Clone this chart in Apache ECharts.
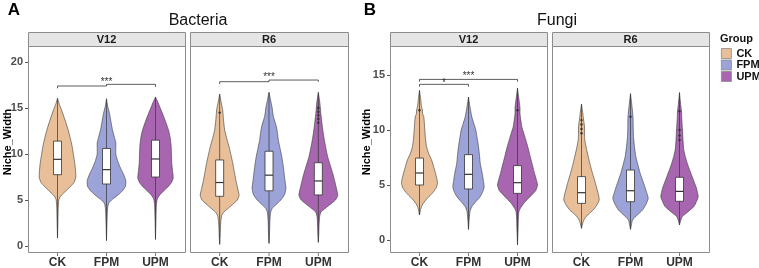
<!DOCTYPE html>
<html>
<head>
<meta charset="utf-8">
<script src="https://cdn.jsdelivr.net/npm/echarts@6/dist/echarts.min.js"></script>
<style>
  html, body { margin: 0; padding: 0; background: #fff; }
  #chart { width: 759px; height: 268px; }
</style>
</head>
<body>
<div id="chart"></div>
<script>
// groups and colours
var groups = ['CK', 'FPM', 'UPM'];
var groupColors = ['#E8BF98', '#9CA3D8', '#A766AF'];

// y axis ranges [min, max, step]
var bacYAxis = [0, 20, 5];
var funYAxis = [0, 15, 5];

// violin outlines: [Niche_Width, relative density] from top tip to bottom tip
var bacV12Violin = {
    CK: [[16.05, 0], [15.5, 1.5], [14.8, 4], [13.7, 7.5], [12.6, 10.7], [11.7, 12.8], [10.8, 14.7], [9.9, 16], [9.0, 17.3], [8.2, 18], [7.5, 18.3], [6.9, 16.5], [6.4, 12.3], [6.0, 8.5], [5.7, 5.7], [5.4, 3], [5.0, 1.3], [4.0, 0.7], [2.5, 0.4], [0.87, 0]],
    FPM: [[16.0, 0], [15.2, 1.2], [14.4, 3], [13.5, 4.5], [12.6, 6], [11.8, 8], [11.2, 9.3], [10.6, 9.3], [10.0, 9.3], [9.3, 11], [8.6, 13.5], [7.8, 17], [7.1, 19.3], [6.5, 19], [6.0, 16], [5.5, 11], [5.0, 5], [4.6, 2], [4.0, 1], [2.5, 0.5], [0.58, 0]],
    UPM: [[16.2, 0], [15.6, 2.5], [14.8, 5.5], [13.7, 9.5], [12.6, 13], [11.7, 14.8], [10.8, 15.7], [9.9, 16], [9.0, 16.3], [8.2, 17], [7.4, 17.7], [6.9, 16], [6.4, 12.3], [5.9, 7.5], [5.5, 4], [5.1, 1.8], [4.5, 0.9], [3.0, 0.5], [0.72, 0]]
};
var bacR6Violin = {
    CK: [[16.5, 0], [15.6, 1.5], [14.8, 3], [13.7, 3.8], [12.6, 5], [11.7, 7], [10.8, 9.3], [9.9, 11.2], [9.0, 13], [8.1, 14.5], [7.2, 16], [6.3, 17.8], [5.5, 19.3], [5.0, 17.5], [4.6, 13.7], [4.1, 8.5], [3.7, 4.3], [3.3, 2], [2.5, 1], [1.2, 0.5], [0.18, 0]],
    FPM: [[16.7, 0], [15.9, 1.5], [15.1, 3], [14.1, 4.3], [13.0, 7.3], [12.2, 8.5], [11.5, 9.3], [10.6, 11], [9.7, 12.7], [8.8, 14], [7.9, 15], [7.0, 16], [6.3, 16.8], [5.6, 15.5], [5.0, 11.7], [4.5, 7], [4.1, 3.3], [3.6, 1.5], [2.5, 0.8], [1.3, 0.5], [0.29, 0]],
    UPM: [[16.7, 0], [15.6, 1.5], [14.4, 2.5], [13.0, 4], [12.2, 5], [11.5, 6], [10.6, 7.6], [9.7, 9.3], [8.8, 11.8], [7.9, 14.3], [7.1, 16.2], [6.4, 17.7], [5.5, 19.3], [5.0, 17], [4.6, 12.7], [4.1, 7], [3.7, 2.7], [3.2, 1.3], [2.2, 0.7], [1.2, 0.4], [0.4, 0]]
};
var funV12Violin = {
    CK: [[13.6, 0], [12.8, 1.2], [12.1, 2], [11.8, 3], [11.5, 3], [11.2, 4.3], [10.0, 5.3], [9.2, 6], [8.5, 7], [7.9, 9], [7.3, 12], [6.7, 14], [6.06, 16], [5.6, 17.3], [5.15, 18], [4.7, 16.5], [4.24, 12.7], [3.9, 9], [3.6, 6], [3.3, 3.5], [3.03, 2], [2.7, 1], [2.27, 0]],
    FPM: [[13.0, 0], [12.2, 1.3], [11.2, 3.3], [10.6, 5.3], [10.0, 7.3], [9.2, 8.8], [8.5, 10], [7.7, 11], [7.0, 11.7], [6.4, 13], [5.75, 14.3], [5.3, 15], [4.85, 15.7], [4.4, 14.3], [3.94, 11.7], [3.5, 7.5], [3.03, 3.3], [2.6, 1.5], [2.0, 0.8], [0.97, 0]],
    UPM: [[13.8, 0], [12.9, 1.3], [12.0, 2.5], [11.5, 2.5], [10.9, 3.3], [10.3, 4.3], [9.7, 6.3], [9.1, 8.3], [8.4, 10.5], [7.6, 12.7], [6.8, 15], [6.06, 17], [5.5, 18.8], [5.0, 20], [4.5, 18.3], [4.1, 14.3], [3.7, 10], [3.3, 6], [2.9, 3], [2.6, 1.5], [2.0, 0.9], [1.0, 0.6], [-0.45, 0]]
};
var funR6Violin = {
    CK: [[12.36, 0], [11.6, 1.2], [11.0, 2], [10.3, 3], [9.7, 3], [9.1, 3.3], [8.4, 4.7], [7.6, 6.7], [6.8, 8.8], [6.06, 11], [5.3, 13.5], [4.55, 15.7], [4.1, 17], [3.64, 17.7], [3.2, 15.5], [2.73, 11.7], [2.35, 7], [1.97, 3.3], [1.6, 1.5], [1.06, 0]],
    FPM: [[13.3, 0], [12.3, 1.3], [11.2, 2.5], [10.3, 2.7], [9.4, 3], [8.5, 4], [7.6, 5.3], [6.8, 7.5], [6.06, 9.7], [5.45, 12], [4.85, 14.3], [4.3, 16.2], [3.79, 17.7], [3.25, 15.5], [2.73, 12], [2.25, 6.5], [1.82, 2], [1.4, 1], [0.97, 0]],
    UPM: [[13.4, 0], [12.3, 1.2], [11.7, 2], [11.0, 2.3], [10.0, 3], [9.1, 3.5], [8.2, 4.3], [7.6, 5.8], [7.0, 7.7], [6.4, 10], [5.75, 12.7], [5.2, 15], [4.7, 17], [3.94, 18.7], [3.5, 17], [3.03, 14.3], [2.6, 9], [2.12, 2.7], [1.7, 1], [1.36, 0]]
};

// boxes: [Q1, median, Q3]
var bacV12Box = { CK: [7.75, 9.42, 11.4], FPM: [6.74, 8.3, 10.6], UPM: [7.5, 9.46, 11.5] };
var bacR6Box = { CK: [5.4, 6.9, 9.35], FPM: [6.0, 7.7, 10.3], UPM: [5.55, 7.07, 9.05] };
var funV12Box = { CK: [5.0, 6.09, 7.45], FPM: [4.64, 5.97, 7.76], UPM: [4.24, 5.21, 6.76] };
var funR6Box = { CK: [3.33, 4.3, 5.76], FPM: [3.48, 4.48, 6.36], UPM: [3.52, 4.42, 5.7] };

// outlier points
var bacV12Out = { CK: [], FPM: [], UPM: [] };
var bacR6Out = { CK: [14.5], FPM: [], UPM: [15.0, 14.6, 14.2, 13.8, 13.4] };
var funV12Out = { CK: [11.8], FPM: [], UPM: [11.8] };
var funR6Out = { CK: [10.9, 10.5, 10.1, 9.7], FPM: [11.2], UPM: [11.7, 10.0, 9.5, 9.1] };

// significance brackets: path in [group, value], label between span groups at value y
var bacV12Sig = [{ path: [['CK', 17.14], ['CK', 17.39], ['FPM', 17.39], ['FPM', 17.57], ['UPM', 17.57], ['UPM', 17.3]], text: '***', span: ['CK', 'UPM'], y: 18.1 }];
var bacR6Sig = [{ path: [['CK', 17.6], ['CK', 17.86], ['FPM', 17.86], ['FPM', 18.04], ['UPM', 18.04], ['UPM', 17.86]], text: '***', span: ['CK', 'UPM'], y: 18.7 }];
var funV12Sig = [
    { path: [['CK', 14.39], ['CK', 14.6], ['UPM', 14.6], ['UPM', 14.39]], text: '***', span: ['CK', 'UPM'], y: 15.15 },
    { path: [['CK', 13.94], ['CK', 14.15], ['FPM', 14.15], ['FPM', 13.94]], text: '*', span: ['CK', 'FPM'], y: 14.55 }
];
var funR6Sig = [];

var panels = [
    { strip: 'V12', violin: bacV12Violin, box: bacV12Box, out: bacV12Out, sig: bacV12Sig, yAxis: bacYAxis, showY: true,
      grid: { left: 33, top: 62, width: 147, height: 184 }, frame: [28, 46, 157, 206], xOffset: 6 },
    { strip: 'R6', violin: bacR6Violin, box: bacR6Box, out: bacR6Out, sig: bacR6Sig, yAxis: bacYAxis, showY: false,
      grid: { left: 195, top: 62, width: 148, height: 184 }, frame: [190, 46, 158, 206], xOffset: 6 },
    { strip: 'V12', violin: funV12Violin, box: funV12Box, out: funV12Out, sig: funV12Sig, yAxis: funYAxis, showY: true,
      grid: { left: 395, top: 75, width: 147, height: 165 }, frame: [390, 46, 157, 206], xOffset: 12 },
    { strip: 'R6', violin: funR6Violin, box: funR6Box, out: funR6Out, sig: funR6Sig, yAxis: funYAxis, showY: false,
      grid: { left: 557, top: 75, width: 147, height: 165 }, frame: [552, 46, 157, 206], xOffset: 12 }
];

function violinRender(profile, box, outliers, ci, yMin, tickOffset) {
    return function (params, api) {
        var cx = api.coord([ci, 0])[0];
        var k = api.size([1, 0])[0] / 49;
        var right = [], left = [];
        profile.forEach(function (p) {
            var y = api.coord([ci, p[0]])[1];
            right.push([cx + p[1] * k, y]);
            left.unshift([cx - p[1] * k, y]);
        });
        var top = api.coord([ci, profile[0][0]])[1];
        var bottom = api.coord([ci, profile[profile.length - 1][0]])[1];
        var q1 = api.coord([ci, box[0]])[1];
        var med = api.coord([ci, box[1]])[1];
        var q3 = api.coord([ci, box[2]])[1];
        // category tick below the panel frame
        var base = api.coord([ci, yMin])[1] + tickOffset;
        var children = [
            { type: 'line', shape: { x1: cx, y1: base + 1, x2: cx, y2: base + 4 },
              style: { stroke: '#555', lineWidth: 0.8 } },
            { type: 'polygon', shape: { points: right.concat(left), smooth: 0.2 },
              style: { fill: api.visual('color'), stroke: '#3a3a3a', lineWidth: 0.6 } },
            { type: 'line', shape: { x1: cx, y1: top, x2: cx, y2: bottom },
              style: { stroke: '#333', lineWidth: 0.7 } }
        ];
        outliers.forEach(function (v) {
            children.push({ type: 'circle', shape: { cx: cx, cy: api.coord([ci, v])[1], r: 1.2 }, style: { fill: '#333' } });
        });
        children.push({ type: 'rect', shape: { x: cx - 4, y: q3, width: 8, height: q1 - q3 },
            style: { fill: '#fff', stroke: '#333', lineWidth: 0.8 } });
        children.push({ type: 'line', shape: { x1: cx - 4, y1: med, x2: cx + 4, y2: med },
            style: { stroke: '#333', lineWidth: 1.2 } });
        return { type: 'group', children: children };
    };
}

function sigRender(sigs) {
    return function (params, api) {
        var children = [];
        sigs.forEach(function (s) {
            var pts = s.path.map(function (p) { return api.coord([groups.indexOf(p[0]), p[1]]); });
            children.push({ type: 'polyline', shape: { points: pts }, style: { stroke: '#333', lineWidth: 0.8, fill: null } });
            var xa = api.coord([groups.indexOf(s.span[0]), s.y])[0];
            var xb = api.coord([groups.indexOf(s.span[1]), s.y])[0];
            var y = api.coord([0, s.y])[1];
            children.push({ type: 'text', x: (xa + xb) / 2, y: y + 3,
                style: { text: s.text, fill: '#333', fontSize: 10, fontFamily: 'Liberation Sans', align: 'center', verticalAlign: 'middle' } });
        });
        return { type: 'group', children: children };
    };
}

var grids = [], xAxes = [], yAxes = [], series = [], graphics = [];
panels.forEach(function (p, i) {
    grids.push(Object.assign({ containLabel: false, outerBoundsMode: 'none' }, p.grid));
    xAxes.push({
        type: 'category', gridIndex: i, data: groups, offset: p.xOffset,
        axisLine: { show: false },
        axisTick: { show: false },
        axisLabel: { margin: 5, fontSize: 12, fontWeight: 'bold', color: '#333', fontFamily: 'Liberation Sans' }
    });
    yAxes.push({
        type: 'value', gridIndex: i, min: p.yAxis[0], max: p.yAxis[1], interval: p.yAxis[2], offset: 5,
        axisLine: { show: false },
        axisTick: { show: p.showY, length: 3, lineStyle: { color: '#555' } },
        axisLabel: { show: p.showY, margin: 5, fontSize: 11, fontWeight: 'bold', color: '#4d4d4d', fontFamily: 'Liberation Sans' },
        splitLine: { show: false }
    });
    groups.forEach(function (g, gi) {
        series.push({
            type: 'custom', name: g, xAxisIndex: i, yAxisIndex: i,
            itemStyle: { color: groupColors[gi] },
            data: [[gi, p.box[g][1]]],
            renderItem: violinRender(p.violin[g], p.box[g], p.out[g], gi, p.yAxis[0], p.xOffset)
        });
    });
    if (p.sig.length) {
        series.push({ type: 'custom', xAxisIndex: i, yAxisIndex: i, data: [[0, 0]], renderItem: sigRender(p.sig), z: 5 });
    }
    var f = p.frame;
    graphics.push({ type: 'rect', shape: { x: f[0] + 0.5, y: f[1] + 0.5, width: f[2], height: f[3] },
        style: { fill: 'none', stroke: '#8c8c8c', lineWidth: 1 }, z: 10 });
    graphics.push({ type: 'rect', shape: { x: f[0] + 0.5, y: 32.5, width: f[2], height: 14 },
        style: { fill: '#e5e5e5', stroke: '#8c8c8c', lineWidth: 1 }, z: 10 });
    graphics.push({ type: 'text', x: f[0] + f[2] / 2, y: 40, z: 11,
        style: { text: p.strip, fill: '#1a1a1a', fontSize: 11, fontWeight: 'bold', fontFamily: 'Liberation Sans', align: 'center', verticalAlign: 'middle' } });
});

// titles, panel letters, axis names, legend title
[['Bacteria', 198], ['Fungi', 557]].forEach(function (t) {
    graphics.push({ type: 'text', x: t[1], y: 21, style: { text: t[0], fill: '#111', fontSize: 16, fontFamily: 'Liberation Sans', align: 'center', verticalAlign: 'middle' } });
});
[['A', 14], ['B', 370]].forEach(function (t) {
    graphics.push({ type: 'text', x: t[1], y: 10, style: { text: t[0], fill: '#000', fontSize: 17, fontWeight: 'bold', fontFamily: 'Liberation Sans', align: 'center', verticalAlign: 'middle' } });
});
[8, 367].forEach(function (x) {
    graphics.push({ type: 'text', x: x, y: 142, rotation: Math.PI / 2,
        style: { text: 'Niche_Width', fill: '#000', fontSize: 11, fontWeight: 'bold', fontFamily: 'Liberation Sans', align: 'center', verticalAlign: 'middle' } });
});
graphics.push({ type: 'text', x: 720, y: 39, style: { text: 'Group', fill: '#111', fontSize: 11, fontWeight: 'bold', fontFamily: 'Liberation Sans', align: 'left', verticalAlign: 'middle' } });

var myChart = echarts.init(document.getElementById('chart'));
myChart.setOption({
    backgroundColor: '#fff',
    animation: false,
    legend: {
        data: groups, orient: 'vertical', left: 721, top: 48, padding: 0,
        itemWidth: 10, itemHeight: 10, itemGap: 0.5, icon: 'rect', selectedMode: false,
        itemStyle: { borderColor: '#8a8a8a', borderWidth: 0.8 },
        textStyle: { fontSize: 11, fontWeight: 'bold', color: '#111', lineHeight: 10, fontFamily: 'Liberation Sans' }
    },
    grid: grids,
    xAxis: xAxes,
    yAxis: yAxes,
    graphic: graphics,
    series: series
});
</script>
</body>
</html>
